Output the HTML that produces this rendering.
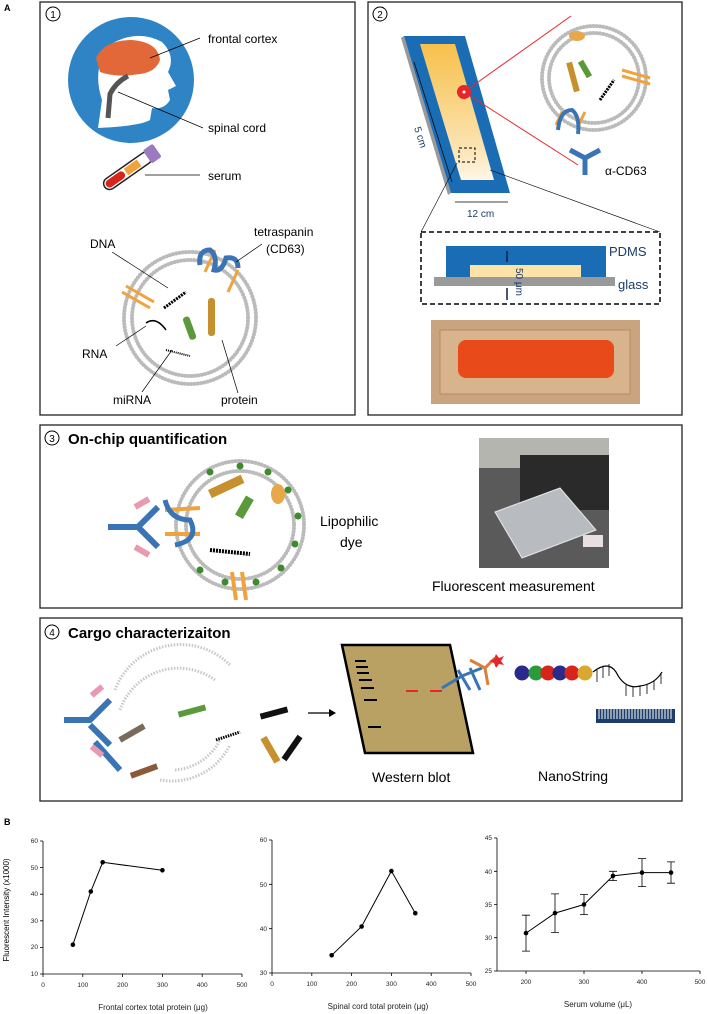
<!DOCTYPE html>
<html><head><meta charset="utf-8"><style>
html,body{margin:0;padding:0;background:#fff}
svg{display:block}
text{font-family:"Liberation Sans",sans-serif}
</style></head><body>
<svg width="708" height="1014" viewBox="0 0 708 1014" xmlns="http://www.w3.org/2000/svg">
<defs>
<linearGradient id="yg" x1="0" y1="0" x2="0" y2="1"><stop offset="0" stop-color="#f7c04a"/><stop offset="0.75" stop-color="#fbe3b0"/><stop offset="1" stop-color="#fff6e6"/></linearGradient>
</defs>
<text x="4" y="11" font-size="9" font-weight="bold">A</text>
<g fill="none" stroke="#222" stroke-width="1.3">
<rect x="40" y="2" width="315" height="413"/>
<rect x="368" y="2" width="314" height="413"/>
<rect x="40" y="425" width="642" height="183"/>
<rect x="40" y="618" width="642" height="183"/>
</g>
<!-- Panel 1 -->
<circle cx="53" cy="14" r="7" fill="none" stroke="#000"/><text x="53" y="18" font-size="10" text-anchor="middle">1</text>
<circle cx="131" cy="80" r="63" fill="#2f84c6"/>
<path d="M98 128 L102 100 Q92 70 108 46 Q136 28 162 42 Q176 56 168 72 L176 86 L168 90 L170 100 Q164 110 152 108 L150 120 Q140 126 98 128 Z" fill="#fff"/>
<path d="M96 58 Q104 40 132 40 Q158 42 160 60 Q156 72 140 74 Q116 78 100 72 Z" fill="#e2683a"/>
<path d="M108 118 L110 94 Q116 82 128 76" fill="none" stroke="#555" stroke-width="5"/>
<line x1="150" y1="58" x2="200" y2="38" stroke="#000" stroke-width="0.7"/>
<line x1="118" y1="92" x2="203" y2="128" stroke="#000" stroke-width="0.7"/>
<text x="208" y="43" font-size="12">frontal cortex</text>
<text x="208" y="132" font-size="12">spinal cord</text>
<g transform="rotate(-35 126 172)"><rect x="100" y="166" width="56" height="12" rx="6" fill="#fff" stroke="#222" stroke-width="1.5"/><rect x="102" y="168" width="22" height="8" rx="4" fill="#d9241c"/><rect x="126" y="168" width="16" height="8" fill="#f2a23a"/><rect x="152" y="164" width="12" height="16" rx="2" fill="#9b7bc0"/></g>
<line x1="145" y1="175" x2="200" y2="175" stroke="#000" stroke-width="0.7"/>
<text x="208" y="180" font-size="12">serum</text>
<g fill="none" stroke="#bbb" stroke-width="4" stroke-dasharray="0.1 3.2" stroke-linecap="round"><circle cx="190" cy="318" r="66"/><circle cx="190" cy="318" r="58"/><circle cx="594" cy="78" r="52"/><circle cx="594" cy="78" r="45"/></g>
<g stroke="#f2a23a" stroke-width="3"><line x1="122" y1="292" x2="150" y2="308"/><line x1="126" y1="286" x2="154" y2="302"/><line x1="205" y1="272" x2="215" y2="250"/><line x1="228" y1="292" x2="238" y2="270"/></g>
<path d="M200 265 Q198 250 210 250 Q218 256 214 270 Q222 272 226 258 Q238 256 238 268" fill="none" stroke="#3b74b4" stroke-width="5"/>
<path d="M164 308 L186 292" stroke="#000" stroke-width="3" stroke-dasharray="2 1"/>
<path d="M146 323 Q156 316 166 330" fill="none" stroke="#000" stroke-width="1.5"/>
<path d="M166 350 L190 356" stroke="#000" stroke-width="2" stroke-dasharray="1 1"/>
<rect x="186" y="316" width="7" height="24" rx="3" fill="#5a9a3a" transform="rotate(-20 190 328)"/>
<rect x="208" y="298" width="7" height="38" rx="3" fill="#c7902e"/>
<g stroke="#000" stroke-width="0.7"><line x1="112" y1="252" x2="168" y2="288"/><line x1="236" y1="262" x2="262" y2="244"/><line x1="116" y1="346" x2="146" y2="326"/><line x1="142" y1="392" x2="172" y2="350"/><line x1="238" y1="393" x2="222" y2="340"/></g>
<text x="90" y="248" font-size="12">DNA</text>
<text x="254" y="236" font-size="12">tetraspanin</text>
<text x="266" y="253" font-size="12">(CD63)</text>
<text x="82" y="358" font-size="12">RNA</text>
<text x="113" y="404" font-size="12">miRNA</text>
<text x="221" y="404" font-size="12">protein</text>
<!-- Panel 2 -->
<circle cx="380" cy="14" r="7" fill="none" stroke="#000"/><text x="380" y="18" font-size="10" text-anchor="middle">2</text>
<polygon points="401,38 404,36 451,193 448,195" fill="#999"/>
<polygon points="404,36 465,36 510,193 451,193" fill="#1a6db4"/>
<polygon points="420,44 455,44 494,180 461,180" fill="url(#yg)"/>
<line x1="464" y1="92" x2="571" y2="16" stroke="#e8262a" stroke-width="1"/>
<line x1="464" y1="92" x2="578" y2="165" stroke="#e8262a" stroke-width="1"/>
<circle cx="464" cy="92" r="7" fill="#e8262a"/><circle cx="464" cy="92" r="1.5" fill="#fff"/>
<rect x="459" y="148" width="16" height="14" fill="none" stroke="#000" stroke-dasharray="3 2"/>
<line x1="421" y1="232" x2="457" y2="163" stroke="#000" stroke-width="0.6"/>
<line x1="660" y1="232" x2="490" y2="170" stroke="#000" stroke-width="0.6"/>
<line x1="414" y1="62" x2="452" y2="182" stroke="#000" stroke-width="0.7"/>
<text transform="translate(414 128) rotate(72)" font-size="10" fill="#1a3a6a">5 cm</text>
<line x1="455" y1="202" x2="508" y2="202" stroke="#000" stroke-width="0.7"/>
<text x="467" y="217" font-size="10" fill="#1a3a6a">12 cm</text>
<g stroke="#f2a23a" stroke-width="3"><line x1="622" y1="70" x2="650" y2="78"/><line x1="622" y1="76" x2="650" y2="84"/><line x1="562" y1="112" x2="556" y2="125"/><line x1="585" y1="112" x2="578" y2="126"/></g>
<ellipse cx="577" cy="36" rx="8" ry="5" fill="#e8a84a"/>
<path d="M558 130 Q560 110 572 110 Q580 116 578 134" fill="none" stroke="#3b74b4" stroke-width="4"/>
<rect x="570" y="62" width="6" height="30" fill="#c7902e" transform="rotate(-15 573 77)"/>
<rect x="582" y="60" width="6" height="18" fill="#5a9a3a" transform="rotate(-30 585 69)"/>
<path d="M600 100 L614 80" stroke="#000" stroke-width="3" stroke-dasharray="2 1"/>
<path d="M570 150 L585 158 L600 150 M585 158 L585 175" fill="none" stroke="#3b74b4" stroke-width="5"/>
<text x="605" y="175" font-size="12">α-CD63</text>
<rect x="421" y="232" width="239" height="72" fill="none" stroke="#000" stroke-width="1.5" stroke-dasharray="5 3"/>
<rect x="446" y="246" width="160" height="31" fill="#1a6db4"/>
<rect x="470" y="265" width="111" height="12" fill="#fde3a8"/>
<rect x="434" y="277" width="181" height="9" fill="#999"/>
<line x1="507" y1="251" x2="507" y2="262" stroke="#0a2040" stroke-width="1.5"/><line x1="507" y1="288" x2="507" y2="300" stroke="#0a2040" stroke-width="1.5"/>
<text transform="translate(516 268) rotate(90)" font-size="10" fill="#1a3a6a">50 μm</text>
<text x="609" y="256" font-size="13" fill="#1a3a6a">PDMS</text>
<text x="618" y="289" font-size="13" fill="#1a3a6a">glass</text>
<rect x="431" y="320" width="209" height="84" fill="#c9a47e"/>
<rect x="440" y="330" width="190" height="64" fill="#d8b48c" stroke="#b58c64"/>
<rect x="458" y="340" width="156" height="38" rx="8" fill="#e84a1a"/>
<!-- Panel 3 -->
<circle cx="52" cy="438" r="7" fill="none" stroke="#000"/><text x="52" y="442" font-size="10" text-anchor="middle">3</text>
<text x="68" y="444" font-size="15" font-weight="bold">On-chip quantification</text>
<g fill="none" stroke="#bbb" stroke-width="4" stroke-dasharray="0.1 3.2" stroke-linecap="round"><circle cx="240" cy="525" r="64"/><circle cx="240" cy="525" r="54"/></g>
<g fill="#3f8a2e"><circle cx="240" cy="466" r="3.5"/><circle cx="268" cy="472" r="3.5"/><circle cx="288" cy="490" r="3.5"/><circle cx="298" cy="516" r="3.5"/><circle cx="295" cy="544" r="3.5"/><circle cx="281" cy="568" r="3.5"/><circle cx="256" cy="582" r="3.5"/><circle cx="225" cy="582" r="3.5"/><circle cx="200" cy="570" r="3.5"/><circle cx="210" cy="472" r="3.5"/></g>
<path d="M108 527 L138 527 L158 507 M138 527 L158 547" fill="none" stroke="#3b74b4" stroke-width="6"/>
<rect x="134" y="500" width="16" height="6" fill="#e89ab0" transform="rotate(-30 142 503)"/>
<rect x="134" y="548" width="16" height="6" fill="#e89ab0" transform="rotate(30 142 551)"/>
<g stroke="#f2a23a" stroke-width="4"><line x1="165" y1="510" x2="200" y2="508"/><line x1="165" y1="534" x2="200" y2="534"/><line x1="232" y1="572" x2="236" y2="600"/><line x1="242" y1="572" x2="246" y2="600"/></g>
<path d="M165 500 Q170 520 190 520 Q200 540 175 545" fill="none" stroke="#3b74b4" stroke-width="5"/>
<rect x="208" y="482" width="36" height="9" fill="#c7902e" transform="rotate(-25 226 486)"/>
<rect x="240" y="496" width="9" height="22" fill="#5a9a3a" transform="rotate(30 244 507)"/>
<path d="M210 550 L250 554" stroke="#000" stroke-width="4" stroke-dasharray="2 1"/>
<ellipse cx="278" cy="494" rx="7" ry="10" fill="#e8a84a"/>
<text x="320" y="526" font-size="14">Lipophilic</text>
<text x="340" y="547" font-size="14">dye</text>
<rect x="479" y="438" width="130" height="130" fill="#5a5a5a"/>
<rect x="479" y="438" width="130" height="30" fill="#b5b5b0"/>
<rect x="520" y="455" width="89" height="55" fill="#2a2a2a"/>
<polygon points="495,512 560,488 596,530 522,558" fill="#b8bcc0" stroke="#e8e8e8"/>
<rect x="583" y="535" width="20" height="12" fill="#e8e0e0"/>
<text x="432" y="591" font-size="14">Fluorescent measurement</text>
<!-- Panel 4 -->
<circle cx="52" cy="632" r="7" fill="none" stroke="#000"/><text x="52" y="636" font-size="10" text-anchor="middle">4</text>
<text x="68" y="638" font-size="15" font-weight="bold">Cargo characterizaiton</text>
<g fill="none" stroke="#c8c8c8" stroke-width="3" stroke-dasharray="1.5 1.5"><path d="M115 690 A70 70 0 0 1 230 665"/><path d="M120 710 A62 62 0 0 1 215 680"/><path d="M160 780 A65 65 0 0 0 230 745"/><path d="M175 770 A55 55 0 0 0 220 740"/></g>
<path d="M64 720 L90 720 L110 700 M90 725 L110 745 M95 742 L120 770" fill="none" stroke="#3b74b4" stroke-width="6"/>
<rect x="90" y="688" width="14" height="6" fill="#e89ab0" transform="rotate(-40 97 691)"/>
<rect x="90" y="748" width="14" height="6" fill="#e89ab0" transform="rotate(40 97 751)"/>
<rect x="118" y="730" width="28" height="6" fill="#7a6a5a" transform="rotate(-30 132 733)"/>
<rect x="130" y="768" width="28" height="6" fill="#8a5a3a" transform="rotate(-20 144 771)"/>
<rect x="178" y="708" width="28" height="6" fill="#5a9a3a" transform="rotate(-15 192 711)"/>
<path d="M216 740 L240 732" stroke="#000" stroke-width="3" stroke-dasharray="1.5 1"/>
<rect x="260" y="710" width="28" height="6" fill="#111" transform="rotate(-15 274 713)"/>
<rect x="278" y="745" width="28" height="6" fill="#111" transform="rotate(-55 292 748)"/>
<rect x="256" y="746" width="28" height="7" fill="#c7902e" transform="rotate(60 270 750)"/>
<line x1="308" y1="713" x2="332" y2="713" stroke="#000" stroke-width="1.2"/><polygon points="336,713 329,709 329,717"/>
<polygon points="342,645 450,645 473,753 365,753" fill="#b9a063" stroke="#000" stroke-width="2.5"/>
<g stroke="#000" stroke-width="2"><line x1="355" y1="661" x2="366" y2="661"/><line x1="356" y1="667" x2="368" y2="667"/><line x1="357" y1="673" x2="369" y2="673"/><line x1="359" y1="680" x2="372" y2="680"/><line x1="361" y1="688" x2="374" y2="688"/><line x1="364" y1="700" x2="377" y2="700"/><line x1="368" y1="727" x2="381" y2="727"/></g>
<g stroke="#e8262a" stroke-width="2"><line x1="406" y1="691" x2="418" y2="691"/><line x1="430" y1="691" x2="442" y2="691"/></g>
<path d="M442 688 L462 676 M458 670 L470 690 M462 676 L482 668 M470 668 L480 690" stroke="#3b74b4" stroke-width="3" fill="none"/>
<path d="M470 660 L485 668 L495 658 M485 668 L488 685" stroke="#d9803a" stroke-width="3" fill="none"/>
<polygon points="496,654 499,658 504,656 501,661 504,665 499,664 496,668 494,663 489,661 494,659" fill="#e8262a"/>
<text x="372" y="782" font-size="14">Western blot</text>
<circle cx="522" cy="673" r="7.5" fill="#2a2a8a"/><circle cx="536" cy="673" r="7.5" fill="#2a9a3a"/><circle cx="548" cy="673" r="7.5" fill="#d9241c"/><circle cx="560" cy="673" r="7.5" fill="#2a2a8a"/><circle cx="572" cy="673" r="7.5" fill="#d9241c"/><circle cx="585" cy="673" r="7.5" fill="#d8a830"/>
<path d="M593 672 Q608 660 616 672 Q625 690 640 686 Q655 684 662 672" fill="none" stroke="#000" stroke-width="1.2"/>
<g stroke="#000" stroke-width="0.8"><line x1="597" y1="670" x2="597" y2="682"/><line x1="603" y1="666" x2="603" y2="678"/><line x1="609" y1="664" x2="609" y2="676"/><line x1="626" y1="685" x2="626" y2="696"/><line x1="633" y1="687" x2="633" y2="697"/><line x1="640" y1="686" x2="640" y2="696"/><line x1="647" y1="684" x2="647" y2="694"/><line x1="654" y1="681" x2="654" y2="690"/><line x1="661" y1="673" x2="661" y2="684"/></g>
<rect x="596" y="709" width="79" height="14" fill="#1d3c6a"/>
<g stroke="#fff" stroke-width="1"><path d="M599 709v10M602 709v10M605 709v10M608 709v10M611 709v10M614 709v10M617 709v10M620 709v10M623 709v10M626 709v10M629 709v10M632 709v10M635 709v10M638 709v10M641 709v10M644 709v10M647 709v10M650 709v10M653 709v10M656 709v10M659 709v10M662 709v10M665 709v10M668 709v10M671 709v10"/></g>
<text x="538" y="781" font-size="14">NanoString</text>
<!-- B -->
<text x="4" y="825" font-size="9" font-weight="bold">B</text>
<text transform="translate(9 910) rotate(-90)" font-size="8" text-anchor="middle">Fluorescent Intensity (x1000)</text>
<g font-size="6.5" fill="#222">
<g stroke="#000" stroke-width="0.8" fill="none"><path d="M43 841 V974 H242"/>
<path d="M40 841h3M40 867.6h3M40 894.2h3M40 920.8h3M40 947.4h3M40 974h3M43 974v3M82.8 974v3M122.6 974v3M162.4 974v3M202.2 974v3M242 974v3"/>
<polyline points="72.9,944.7 90.8,891.5 102.7,862.3 162.4,870.3" stroke-width="1"/></g>
<g fill="#000"><circle cx="72.9" cy="944.7" r="2.3"/><circle cx="90.8" cy="891.5" r="2.3"/><circle cx="102.7" cy="862.3" r="2.3"/><circle cx="162.4" cy="870.3" r="2.3"/></g>
<g text-anchor="end"><text x="38" y="843">60</text><text x="38" y="870">50</text><text x="38" y="896">40</text><text x="38" y="923">30</text><text x="38" y="949">20</text><text x="38" y="976">10</text></g>
<g text-anchor="middle"><text x="43" y="987">0</text><text x="82.8" y="987">100</text><text x="122.6" y="987">200</text><text x="162.4" y="987">300</text><text x="202.2" y="987">400</text><text x="242" y="987">500</text></g>
<text x="153" y="1010" font-size="8" text-anchor="middle">Frontal cortex total protein (μg)</text>
<g stroke="#000" stroke-width="0.8" fill="none"><path d="M272 840 V973 H471"/>
<path d="M269 840h3M269 884.3h3M269 928.7h3M269 973h3M272 973v3M311.8 973v3M351.6 973v3M391.4 973v3M431.2 973v3M471 973v3"/>
<polyline points="331.7,955.3 361.6,926.5 391.4,871 415.3,913.2" stroke-width="1"/></g>
<g fill="#000"><circle cx="331.7" cy="955.3" r="2.3"/><circle cx="361.6" cy="926.5" r="2.3"/><circle cx="391.4" cy="871" r="2.3"/><circle cx="415.3" cy="913.2" r="2.3"/></g>
<g text-anchor="end"><text x="267" y="842">60</text><text x="267" y="887">50</text><text x="267" y="931">40</text><text x="267" y="975">30</text></g>
<g text-anchor="middle"><text x="272" y="986">0</text><text x="311.8" y="986">100</text><text x="351.6" y="986">200</text><text x="391.4" y="986">300</text><text x="431.2" y="986">400</text><text x="471" y="986">500</text></g>
<text x="378" y="1009" font-size="8" text-anchor="middle">Spinal cord total protein (μg)</text>
<g stroke="#000" stroke-width="0.8" fill="none"><path d="M497 838 V971 H700"/>
<path d="M494 838h3M494 871.3h3M494 904.5h3M494 937.7h3M494 971h3M526 971v3M584 971v3M642 971v3M700 971v3"/>
<polyline points="526,933.1 555,913.1 584,904.5 613,875.9 642,872.6 671,872.6" stroke-width="1"/>
<path d="M526 915.2V951.1M522 915.2h8M522 951.1h8M555 893.9V932.4M551 893.9h8M551 932.4h8M584 894.5V914.5M580 894.5h8M580 914.5h8M613 871.3V880.6M609 871.3h8M609 880.6h8M642 858.6V886.6M638 858.6h8M638 886.6h8M671 861.9V883.2M667 861.9h8M667 883.2h8"/></g>
<g fill="#000"><circle cx="526" cy="933.1" r="2.3"/><circle cx="555" cy="913.1" r="2.3"/><circle cx="584" cy="904.5" r="2.3"/><circle cx="613" cy="875.9" r="2.3"/><circle cx="642" cy="872.6" r="2.3"/><circle cx="671" cy="872.6" r="2.3"/></g>
<g text-anchor="end"><text x="492" y="840">45</text><text x="492" y="874">40</text><text x="492" y="907">35</text><text x="492" y="940">30</text><text x="492" y="973">25</text></g>
<g text-anchor="middle"><text x="526" y="984">200</text><text x="584" y="984">300</text><text x="642" y="984">400</text><text x="700" y="984">500</text></g>
<text x="598" y="1007" font-size="8" text-anchor="middle">Serum volume (μL)</text>
</g>
</svg>
</body></html>
